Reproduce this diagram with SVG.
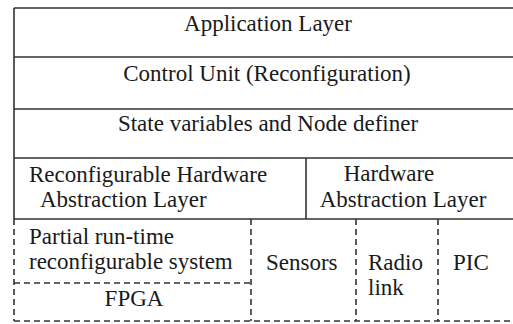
<svg xmlns="http://www.w3.org/2000/svg" width="513" height="324" viewBox="0 0 513 324">
  <style>
    text { font-family: 'Liberation Serif', 'DejaVu Serif', serif; font-size: 23px; fill: #1a1a1a; }
    .m { text-anchor: middle; }
    .solid { stroke: #333; stroke-width: 1.6; fill: none; }
    .dash { stroke: #333; stroke-width: 1.6; fill: none; stroke-dasharray: 6 4; }
  </style>
  <rect width="513" height="324" fill="#fff"/>

  <!-- layer boundaries -->
  <g id="connectors">
    <path class="solid" d="M14 8 H513 M14 57 H513 M14 109 H513 M14 158 H513 M14 219 H513 M14 8 V219 M306 158 V219"/>
    <path class="dash" d="M14 219 V321 M251 219 V321 M356 219 V321 M438 219 V321 M14 283 H251 M14 321 H513"/>
  </g>

  <g id="application-layer">
    <text class="m" x="268" y="31">Application Layer</text>
  </g>
  <g id="control-unit">
    <text class="m" x="267" y="81">Control Unit (Reconfiguration)</text>
  </g>
  <g id="state-variables">
    <text class="m" x="268" y="131">State variables and Node definer</text>
  </g>
  <g id="rhal">
    <text x="29" y="182">Reconfigurable Hardware</text>
    <text x="40" y="207">Abstraction Layer</text>
  </g>
  <g id="hal">
    <text class="m" x="389" y="181">Hardware</text>
    <text class="m" x="403" y="207">Abstraction Layer</text>
  </g>
  <g id="partial-reconfig">
    <text x="29" y="244">Partial run-time</text>
    <text x="29" y="269">reconfigurable system</text>
  </g>
  <g id="fpga">
    <text class="m" x="134" y="306">FPGA</text>
  </g>
  <g id="sensors">
    <text x="266" y="270">Sensors</text>
  </g>
  <g id="radio-link">
    <text x="368" y="270">Radio</text>
    <text x="368" y="295">link</text>
  </g>
  <g id="pic">
    <text x="453" y="270">PIC</text>
  </g>
</svg>
